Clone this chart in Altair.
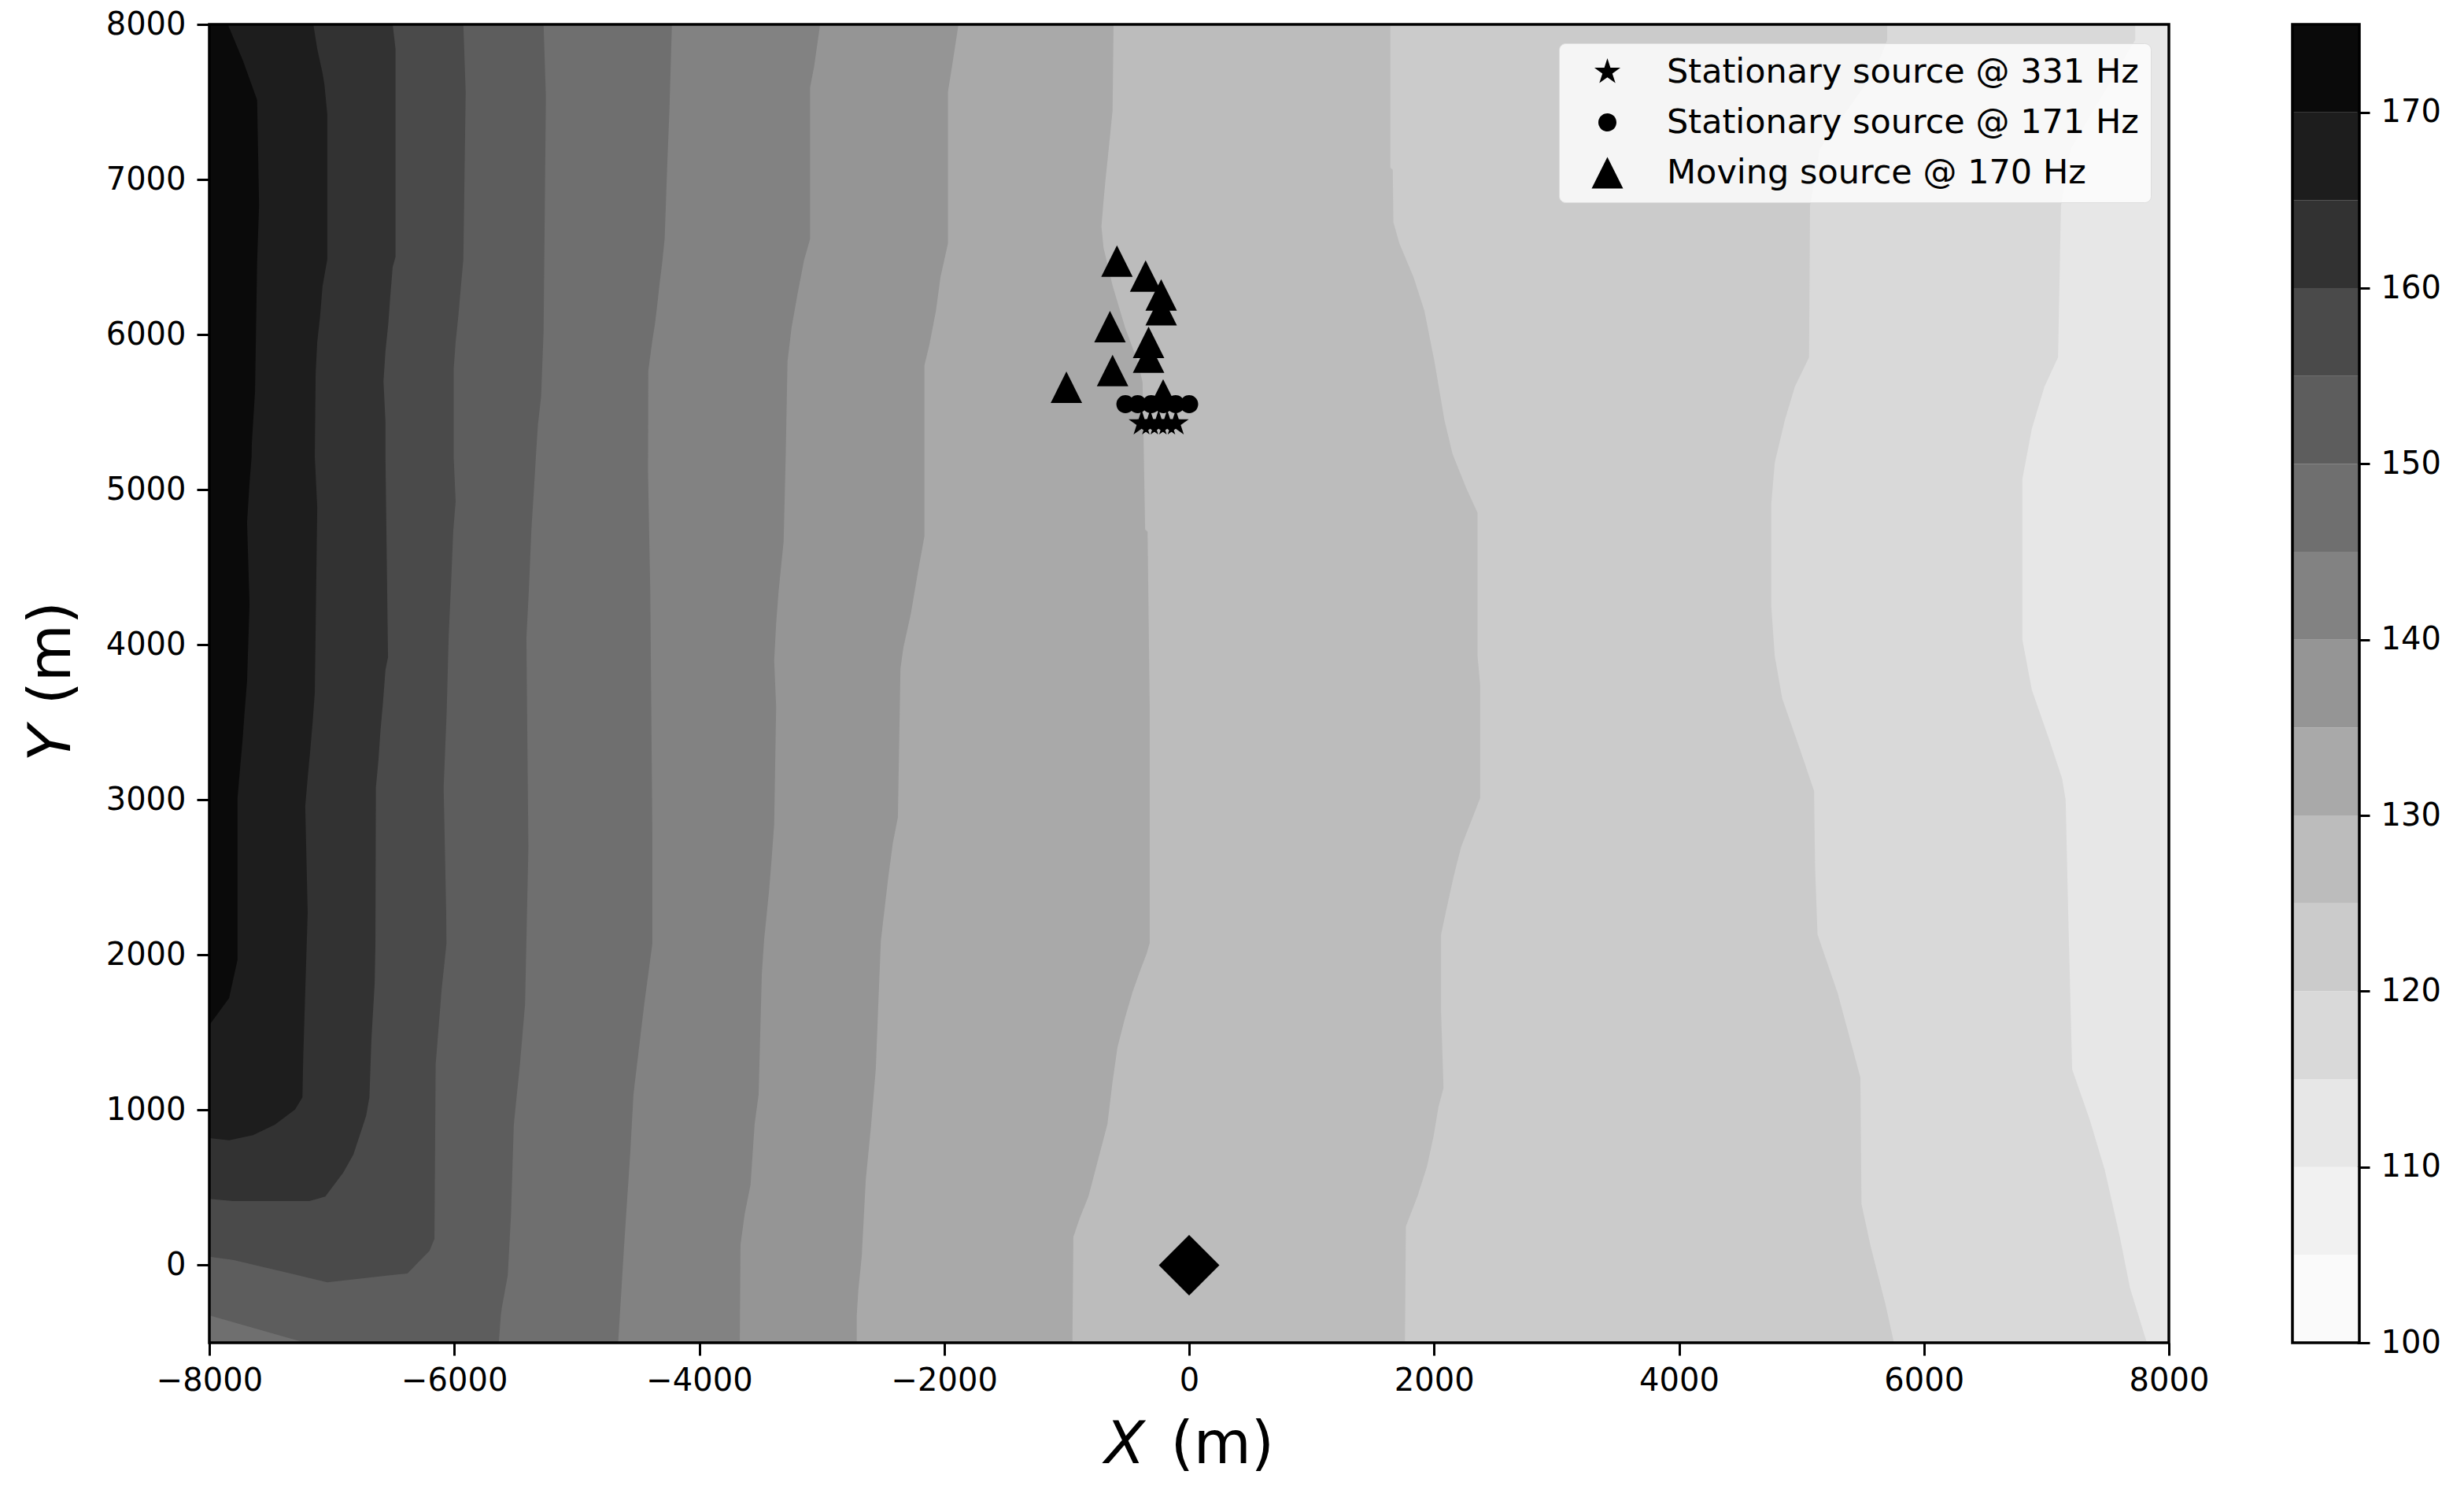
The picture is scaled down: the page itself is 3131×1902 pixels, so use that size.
import altair as alt
import pandas as pd

# contour levels and greys of the colour bar
levels = [100, 105, 110, 115, 120, 125, 130, 135, 140, 145, 150, 155, 160, 165, 170, 175]
greys = ["#fafafa", "#f1f1f1", "#e7e7e7", "#d9d9d9", "#cbcbcb", "#bcbcbc", "#a9a9a9", "#959595",
         "#828282", "#6f6f6f", "#5d5d5d", "#4a4a4a", "#323232", "#1d1d1d", "#0a0a0a"]
bar_ticks = [100, 110, 120, 130, 140, 150, 160, 170]
x_ticks = [-8000, -6000, -4000, -2000, 0, 2000, 4000, 6000, 8000]
y_ticks = [0, 1000, 2000, 3000, 4000, 5000, 6000, 7000, 8000]

# right edge of each filled band
y_d9 = [8000, 7900, 7600, 7200, 6832, 5854, 5664, 5393, 5067, 4035, 3709, 3383, 3138, 3002, 2296, 1264, 938, 613, 178, -148, -500]
x_d9 = [7725, 7725, 7500, 7200, 7119, 7095, 6984, 6881, 6803, 6803, 6881, 7025, 7128, 7157, 7177, 7210, 7354, 7477, 7601, 7683, 7820]
y_cb = [8000, 7900, 7700, 7200, 6832, 5854, 5664, 5447, 5175, 4904, 4252, 3926, 3654, 3328, 3057, 2568, 2133, 1753, 1210, 395, 124, -257, -500]
x_cb = [5700, 5700, 5600, 5150, 5070, 5062, 4946, 4864, 4782, 4753, 4753, 4782, 4843, 4987, 5103, 5111, 5131, 5296, 5481, 5490, 5564, 5687, 5755]
y_bc = [8000, 7077, 7063, 6724, 6588, 6371, 6154, 5828, 5448, 5231, 5014, 4851, 3928, 3744, 3011, 2887, 2695, 2503, 2283, 2132, 1638, 1143, 1020, 827, 635, 443, 250, -500]
x_bc = [1643, 1643, 1663, 1668, 1717, 1832, 1921, 2003, 2085, 2151, 2261, 2355, 2355, 2376, 2376, 2315, 2220, 2159, 2098, 2057, 2057, 2077, 2036, 1995, 1942, 1864, 1770, 1762]
y_a9 = [8000, 7444, 7186, 6996, 6860, 6697, 6561, 6317, 6046, 5828, 5693, 4743, 4729, 3602, 2077, 2008, 1899, 1761, 1596, 1404, 1184, 910, 690, 443, 305, 182, -500]
x_a9 = [-617, -625, -658, -683, -699, -716, -699, -625, -523, -421, -380, -359, -339, -322, -322, -347, -400, -462, -523, -585, -625, -667, -740, -822, -892, -945, -953]
y_95 = [8000, 7729, 7566, 6588, 6371, 6154, 5937, 5801, 4702, 4471, 4200, 3982, 3847, 2887, 2723, 2503, 2228, 2091, 1679, 1267, 882, 552, 58, -162, -327, -500]
x_95 = [-1883, -1936, -1969, -1969, -2030, -2067, -2120, -2161, -2161, -2214, -2272, -2333, -2357, -2378, -2419, -2456, -2497, -2517, -2538, -2558, -2599, -2640, -2673, -2701, -2714, -2714]
y_82 = [8000, 7729, 7593, 6616, 6480, 6263, 6046, 5828, 5213, 4665, 4510, 4344, 4137, 3899, 3600, 2844, 2617, 2420, 2255, 2100, 1877, 1101, 907, 519, 325, 131, -500]
x_82 = [-3013, -3062, -3095, -3095, -3144, -3197, -3246, -3279, -3294, -3311, -3331, -3352, -3372, -3388, -3372, -3388, -3409, -3429, -3450, -3470, -3489, -3515, -3548, -3581, -3630, -3663, -3669]
y_6f = [8000, 7455, 7077, 6621, 6466, 6320, 6204, 6077, 5961, 5767, 5112, 4354, 2793, 2071, 1683, 1101, 713, 131, -500]
x_6f = [-4223, -4243, -4262, -4282, -4302, -4325, -4341, -4360, -4383, -4416, -4418, -4400, -4383, -4383, -4449, -4537, -4564, -4613, -4662]
y_5d = [8000, 7532, 6019, 5602, 5418, 5224, 4996, 4748, 4354, 4044, 2693, 1683, 1295, 907, 325, -63, -276, -324, -500]
x_5d = [-5271, -5252, -5271, -5291, -5317, -5333, -5350, -5370, -5391, -5411, -5395, -5422, -5464, -5514, -5537, -5563, -5612, -5620, -5637]
y_4a = [8000, 7561, 6485, 6310, 6126, 5952, 5777, 5213, 4923, 4727, 4417, 4055, 3568, 3082, 2275, 2071, 1780, 1295, 170, 93, 54, 34, -53, -72, -111]
x_4a = [-5926, -5907, -5926, -5946, -5966, -5989, -6005, -6005, -5989, -6009, -6025, -6046, -6062, -6087, -6066, -6064, -6103, -6152, -6162, -6202, -6250, -6275, -6382, -6611, -7037]
y_32 = [8000, 7843, 6500, 6436, 6242, 6068, 5893, 5699, 5438, 5213, 3920, 3837, 3630, 3444, 3258, 3082, 2071, 1819, 1450, 1082, 965, 830, 713, 597, 442, 428, 413]
x_32 = [-6503, -6480, -6480, -6503, -6523, -6539, -6562, -6578, -6562, -6562, -6541, -6562, -6582, -6603, -6619, -6640, -6644, -6650, -6677, -6693, -6719, -6775, -6824, -6906, -7053, -7120, -7184]
y_1d = [8000, 7843, 7687, 7610, 7420, 6485, 6310, 6116, 5952, 5748, 5213, 4886, 3692, 3506, 3320, 3144, 2958, 2275, 1353, 1082, 1004, 907, 839, 820, 806]
x_1d = [-7151, -7119, -7076, -7060, -7037, -7037, -7076, -7096, -7119, -7132, -7139, -7119, -7139, -7156, -7176, -7197, -7217, -7197, -7233, -7240, -7299, -7463, -7643, -7756, -7839]
y_0a = [8000, 7765, 7513, 6834, 6466, 5632, 5302, 5213, 5041, 4789, 4261, 3765, 3568, 3382, 3206, 3010, 1969, 1722, 1547]
x_0a = [-7849, -7725, -7610, -7594, -7610, -7627, -7653, -7655, -7672, -7692, -7672, -7692, -7712, -7729, -7749, -7770, -7770, -7839, -8000]

# left edges where a band leaves the left wall near the bottom (last points of the band)
left_5d = [-7217]
left_4a = [-7807, -7337, -7237, -7037]
left_32 = [-7807]
left_1d = [-7839]

bands = [
    ("#d9d9d9", y_d9, x_d9, []),
    ("#cbcbcb", y_cb, x_cb, []),
    ("#bcbcbc", y_bc, x_bc, []),
    ("#a9a9a9", y_a9, x_a9, []),
    ("#959595", y_95, x_95, []),
    ("#828282", y_82, x_82, []),
    ("#6f6f6f", y_6f, x_6f, []),
    ("#5d5d5d", y_5d, x_5d, left_5d),
    ("#4a4a4a", y_4a, x_4a, left_4a),
    ("#323232", y_32, x_32, left_32),
    ("#1d1d1d", y_1d, x_1d, left_1d),
    ("#0a0a0a", y_0a, x_0a, []),
]

# sources
star_x = [-388, -318, -249, -179, -109]
star_y = [5427, 5427, 5427, 5427, 5427]
circle_x = [-520, -420, -310, -210, -110, 0]
circle_y = [5551, 5551, 5551, 5551, 5551, 5551]
moving_x = [-589, -355, -228, -228, -331, -331, -646, -625, -1002, -212]
moving_y = [6474, 6377, 6255, 6160, 5950, 5855, 6051, 5769, 5660, 5611]
names = ["Stationary source @ 331 Hz", "Stationary source @ 171 Hz", "Moving source @ 170 Hz"]
receiver_x = [0]
receiver_y = [0]

FONT = "DejaVu Sans"
W = 2493
BAR_LEFT = 2647
BAR_W = 85
MARKER = 1600
triangle = "M0,-1L-1,1L1,1Z"
dot = "M0.575,0A0.575,0.575 0 1,1 -0.575,0A0.575,0.575 0 1,1 0.575,0Z"
star = "M0,-0.87L0.195,-0.269L0.827,-0.269L0.316,0.103L0.512,0.704L0,0.332L-0.512,0.704L-0.316,0.103L-0.827,-0.269L-0.195,-0.269Z"

x_enc = alt.X("x:Q", scale=alt.Scale(domain=[-8000, 8000], nice=False, zero=False), title=None,
              axis=alt.Axis(values=x_ticks, format="d", grid=False, domain=False, tickSize=16, tickWidth=3,
                            tickColor="black", labelFontSize=40, labelFont=FONT, labelColor="black",
                            labelPadding=12, labelOverlap=False, labelFlush=False))
y_enc = alt.Y("y:Q", scale=alt.Scale(domain=[-500, 8000], nice=False, zero=False), title=None,
              axis=alt.Axis(values=y_ticks, format="d", grid=False, domain=False, tickSize=16, tickWidth=3,
                            tickColor="black", labelFontSize=40, labelFont=FONT, labelColor="black",
                            labelPadding=14, labelOverlap=False))

layers = [
    alt.Chart(pd.DataFrame({"x": [-8000], "x2": [8000], "y": [-500], "y2": [8000]}))
    .mark_rect(color="#e7e7e7")
    .encode(x=x_enc, x2="x2:Q", y=y_enc, y2="y2:Q")
]
for colour, ys, xs, tail in bands:
    left = [-8000] * (len(ys) - len(tail)) + tail
    band = pd.DataFrame({"y": ys, "x": left, "x2": xs})
    layers.append(
        alt.Chart(band).mark_area(orient="horizontal", color=colour, opacity=1, interpolate="linear")
        .encode(y=y_enc, x=x_enc, x2="x2:Q")
    )

layers.append(
    alt.Chart(pd.DataFrame({"x": receiver_x, "y": receiver_y}))
    .mark_point(filled=True, color="black", opacity=1, shape="diamond", size=5929)
    .encode(x=x_enc, y=y_enc)
)

sources = pd.DataFrame({
    "x": star_x + circle_x + moving_x,
    "y": star_y + circle_y + moving_y,
    "source": [names[0]] * len(star_x) + [names[1]] * len(circle_x) + [names[2]] * len(moving_x),
})
legend = alt.Legend(title=None, orient="none", legendX=1715, legendY=24, fillColor="rgba(255,255,255,0.8)",
                    strokeColor="#dddddd", cornerRadius=8, padding=15, labelFont=FONT, labelFontSize=43,
                    labelColor="black", labelOffset=54, rowPadding=20, symbolFillColor="black",
                    symbolStrokeWidth=0, symbolOffset=25, labelLimit=900, symbolOpacity=1, symbolSize=MARKER)
layers.append(
    alt.Chart(sources).mark_point(filled=True, color="black", opacity=1, size=MARKER).encode(
        x=x_enc, y=y_enc,
        shape=alt.Shape("source:N", scale=alt.Scale(domain=names, range=[star, dot, triangle]), legend=legend),
    )
)
# plot frame on top of the bands
layers.append(
    alt.Chart(pd.DataFrame({"x": [-8000], "x2": [8000], "y": [-500], "y2": [8000]}))
    .mark_rect(fillOpacity=0, stroke="black", strokeWidth=3.5)
    .encode(x=x_enc, x2="x2:Q", y=y_enc, y2="y2:Q")
)


def label(text, x, y, style="normal", angle=0):
    return alt.Chart(pd.DataFrame({"t": [text], "x": [x], "y": [y]})).mark_text(
        font=FONT, fontSize=75, fontStyle=style, color="black", align="left", baseline="alphabetic", angle=angle
    ).encode(text="t:N", x=x_enc, y=y_enc)


layers += [
    label("X", -690, -1276, "italic"),
    label("(m)", -151, -1276),
    label("Y", -9136, 3248, "italic", 270),
    label("(m)", -9136, 3613, "normal", 270),
]
main = alt.layer(*layers)

# colour bar, on its own y scale, to the right of the plot
bar = pd.DataFrame({"low": levels[:-1], "high": levels[1:], "grey": greys})
bar_y = alt.Y("low:Q", scale=alt.Scale(domain=[100, 175], nice=False, zero=False), title=None,
              axis=alt.Axis(orient="right", offset=BAR_LEFT + BAR_W - W, values=bar_ticks, format="d", grid=False,
                            domain=False, tickSize=16, tickWidth=3, tickColor="black", labelFontSize=40,
                            labelFont=FONT, labelColor="black", labelPadding=14))
colourbar = alt.layer(
    alt.Chart(bar).mark_rect().encode(
        y=bar_y, y2="high:Q", x=alt.value(BAR_LEFT), x2=alt.value(BAR_LEFT + BAR_W),
        color=alt.Color("grey:N", scale=None),
    ),
    alt.Chart(pd.DataFrame({"low": [100], "high": [175]}))
    .mark_rect(fillOpacity=0, stroke="black", strokeWidth=3.5)
    .encode(y=bar_y, y2="high:Q", x=alt.value(BAR_LEFT), x2=alt.value(BAR_LEFT + BAR_W)),
)

chart = alt.layer(main, colourbar).resolve_scale(y="independent").properties(
    width=3099, height=1891, padding={"left": -23, "top": 3, "right": 5, "bottom": 5},
    autosize=alt.AutoSizeParams(type="fit", contains="padding"),
).configure_view(stroke=None)

chart.save("out.html", embed_options={"renderer": "svg", "actions": False})
